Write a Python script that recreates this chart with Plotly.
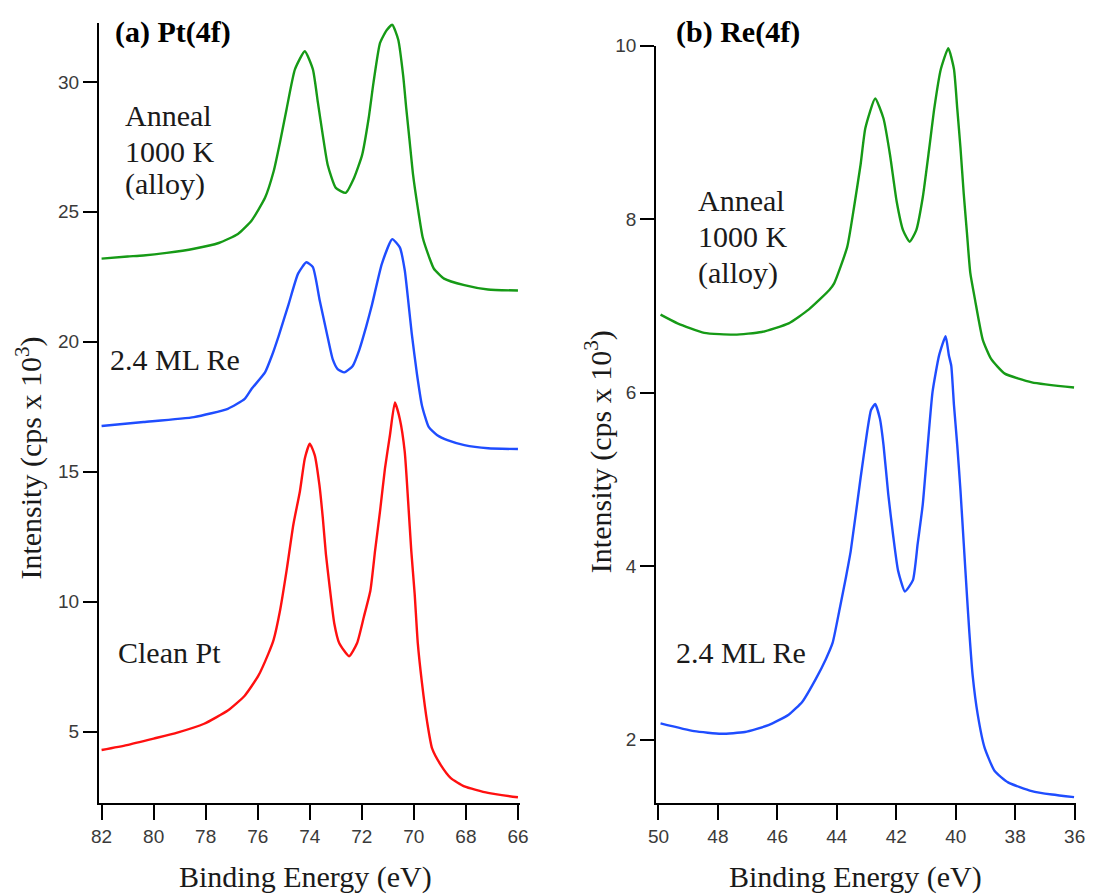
import plotly.graph_objects as go

# ---------------- Panel (a) Pt(4f) ----------------
pt_anneal_E = [82.0, 81.0, 80.4, 79.5, 78.45, 77.5, 76.76, 76.24, 75.72, 75.39, 75.14, 74.89, 74.57, 74.19,
               73.88, 73.69, 73.5, 73.31, 73.0, 72.62, 72.3, 71.99, 71.74, 71.55, 71.3, 71.04, 70.83, 70.6,
               70.41, 70.29, 70.16, 70.03, 69.85, 69.66, 69.41, 69.23, 68.84, 68.06, 67.15, 66.0]
pt_anneal_I = [23.2, 23.28, 23.32, 23.42, 23.58, 23.8, 24.15, 24.66, 25.54, 26.55, 27.7, 28.96, 30.48, 31.18,
               30.48, 29.22, 27.95, 26.8, 25.92, 25.73, 26.3, 27.18, 28.58, 29.98, 31.5, 32.0, 32.2, 31.62,
               30.23, 28.96, 27.69, 26.42, 25.16, 24.01, 23.25, 22.81, 22.43, 22.18, 22.01, 21.97]

pt_re_E = [82.0, 80.39, 78.45, 77.15, 76.5, 76.24, 75.72, 75.46, 75.2, 74.82, 74.45, 74.13, 73.88, 73.62,
           73.32, 73.12, 72.93, 72.67, 72.35, 72.09, 71.83, 71.61, 71.23, 70.83, 70.54, 70.35, 70.2, 70.08,
           69.88, 69.69, 69.43, 69.1, 68.71, 68.06, 67.15, 66.0]
pt_re_I = [16.76, 16.91, 17.1, 17.42, 17.8, 18.18, 18.82, 19.45, 20.21, 21.42, 22.62, 23.06, 22.87, 21.6,
           20.21, 19.33, 18.95, 18.82, 19.07, 19.71, 20.59, 21.42, 23.0, 23.95, 23.63, 22.75, 21.42, 20.3,
           18.75, 17.55, 16.72, 16.4, 16.21, 16.02, 15.9, 15.87]

pt_clean_E = [82.0, 81.03, 80.0, 79.09, 78.06, 77.15, 76.5, 75.98, 75.59, 75.39, 75.14, 74.89, 74.63, 74.38,
              74.19, 74.0, 73.81, 73.63, 73.5, 73.38, 73.25, 73.06, 72.87, 72.49, 72.18, 71.92, 71.67, 71.49,
              71.3, 71.11, 70.92, 70.73, 70.54, 70.35, 70.22, 70.1, 69.97, 69.85, 69.69, 69.49, 69.3, 68.97,
              68.58, 68.06, 67.15, 66.0]
pt_clean_I = [4.29, 4.48, 4.73, 4.96, 5.3, 5.81, 6.38, 7.14, 8.0, 8.53, 9.67, 11.2, 12.97, 14.24,
              15.51, 16.08, 15.64, 14.49, 13.23, 11.83, 10.69, 9.17, 8.41, 7.9, 8.41, 9.42, 10.43, 11.96,
              13.48, 15.13, 16.4, 17.66, 17.03, 15.76, 13.86, 11.96, 10.31, 8.41, 6.88, 5.37, 4.35, 3.72,
              3.21, 2.89, 2.64, 2.47]

# ---------------- Panel (b) Re(4f) ----------------
re_anneal_E = [49.93, 49.36, 48.46, 47.44, 46.53, 45.62, 44.94, 44.26, 44.09, 43.65, 43.42, 43.2, 43.04, 42.71,
               42.43, 42.21, 41.99, 41.77, 41.55, 41.33, 41.11, 40.89, 40.72, 40.5, 40.25, 40.06, 39.95, 39.84,
               39.73, 39.62, 39.51, 39.35, 39.09, 38.81, 38.35, 37.44, 36.02]
re_anneal_I = [6.9, 6.8, 6.69, 6.67, 6.7, 6.8, 6.96, 7.18, 7.26, 7.68, 8.14, 8.63, 9.05, 9.39,
               9.16, 8.74, 8.21, 7.87, 7.74, 7.87, 8.25, 8.82, 9.28, 9.73, 9.97, 9.73, 9.28, 8.82,
               8.29, 7.83, 7.38, 7.07, 6.61, 6.39, 6.22, 6.12, 6.06]

re_re_E = [49.93, 48.8, 47.89, 47.09, 46.3, 45.62, 45.16, 44.71, 44.37, 44.14, 43.91, 43.69, 43.53, 43.2,
           42.98, 42.85, 42.71, 42.55, 42.43, 42.27, 42.1, 41.94, 41.71, 41.44, 41.28, 41.11, 40.95, 40.78,
           40.56, 40.34, 40.23, 40.15, 40.06, 39.95, 39.84, 39.73, 39.62, 39.54, 39.43, 39.26, 39.03, 38.69,
           38.24, 37.44, 36.76, 36.02]
re_re_I = [2.19, 2.1, 2.07, 2.09, 2.17, 2.29, 2.44, 2.7, 2.93, 3.12, 3.5, 3.88, 4.18, 5.02,
           5.55, 5.8, 5.87, 5.7, 5.4, 4.83, 4.34, 3.95, 3.71, 3.84, 4.26, 4.71, 5.36, 6.01,
           6.43, 6.65, 6.43, 6.31, 5.86, 5.4, 4.87, 4.26, 3.65, 3.23, 2.74, 2.29, 1.91, 1.64,
           1.51, 1.41, 1.37, 1.34]

pt_ticks = [82, 80, 78, 76, 74, 72, 70, 68, 66]
re_ticks = [50, 48, 46, 44, 42, 40, 38, 36]
pt_yticks = [5, 10, 15, 20, 25, 30]
re_yticks = [2, 4, 6, 8, 10]

GREEN = "#169a16"
BLUE = "#1f4dff"
RED = "#ff1010"
W, H = 1099, 896

fig = go.Figure()
line_kw = dict(width=2.4, shape="spline", smoothing=0.5)
fig.add_trace(go.Scatter(x=pt_anneal_E, y=pt_anneal_I, mode="lines", line=dict(color=GREEN, **line_kw),
                         xaxis="x", yaxis="y", showlegend=False))
fig.add_trace(go.Scatter(x=pt_re_E, y=pt_re_I, mode="lines", line=dict(color=BLUE, **line_kw),
                         xaxis="x", yaxis="y", showlegend=False))
fig.add_trace(go.Scatter(x=pt_clean_E, y=pt_clean_I, mode="lines", line=dict(color=RED, **line_kw),
                         xaxis="x", yaxis="y", showlegend=False))
fig.add_trace(go.Scatter(x=re_anneal_E, y=re_anneal_I, mode="lines", line=dict(color=GREEN, **line_kw),
                         xaxis="x2", yaxis="y2", showlegend=False))
fig.add_trace(go.Scatter(x=re_re_E, y=re_re_I, mode="lines", line=dict(color=BLUE, **line_kw),
                         xaxis="x2", yaxis="y2", showlegend=False))

tickfont = dict(family="Liberation Sans, Arial, sans-serif", size=19, color="#3a3a3a")
axis_common = dict(showline=True, linecolor="black", linewidth=2, ticks="outside", tickwidth=2,
                   tickcolor="black", showgrid=False, zeroline=False, tickfont=tickfont)

yb = (H - 801.7) / H
fig.update_layout(
    width=W, height=H, autosize=False,
    margin=dict(l=0, r=0, t=0, b=0, pad=0),
    paper_bgcolor="white", plot_bgcolor="white",
    xaxis=dict(domain=[92.5 / W, 520.3 / W], range=[82.1, 65.93], tickvals=pt_ticks, ticklen=15,
               anchor="y", **axis_common),
    yaxis=dict(domain=[yb, (H - 13.3) / H], range=[2.26, 32.26], tickvals=pt_yticks, ticklen=14,
               anchor="x", **axis_common),
    xaxis2=dict(domain=[659 / W, 1085.4 / W], range=[50.076, 35.967], tickvals=re_ticks, ticklen=15,
                anchor="y2", **axis_common),
    yaxis2=dict(domain=[yb, (H - 36) / H], range=[1.275, 10.0], tickvals=re_yticks, ticklen=14,
                anchor="x2", **axis_common),
)

serif = "Liberation Serif, Times New Roman, serif"
txt = dict(family=serif, size=30, color="#1a1a1a")
bold = dict(family=serif, size=30, color="black")


def ann(text, x, y, font, xanchor="left", angle=0):
    fig.add_annotation(text=text, x=x / W, y=1 - y / H, xref="paper", yref="paper",
                       xanchor=xanchor, yanchor="middle", showarrow=False, font=font,
                       textangle=angle)


# panel titles
ann("<b>(a) Pt(4f)</b>", 107, 22, bold)
ann("<b>(b) Re(4f)</b>", 677, 22, bold)

# panel (a) labels
ann("Anneal", 117, 107, txt)
ann("1000 K", 117, 143, txt)
ann("(alloy)", 117, 176, txt)
ann("2.4 ML Re", 102, 353, txt)
ann("Clean Pt", 110, 650, txt)

# panel (b) labels
ann("Anneal", 699, 193, txt)
ann("1000 K", 699, 229, txt)
ann("(alloy)", 699, 266, txt)
ann("2.4 ML Re", 677, 650, txt)

# axis titles
ann("Binding Energy (eV)", 302, 877, txt, xanchor="center")
ann("Binding Energy (eV)", 862, 877, txt, xanchor="center")
ann("Intensity (cps x 10<sup>3</sup>)", 22, 453, txt, xanchor="center", angle=-90)
ann("Intensity (cps x 10<sup>3</sup>)", 600, 447, txt, xanchor="center", angle=-90)

fig.write_html("out.html")
